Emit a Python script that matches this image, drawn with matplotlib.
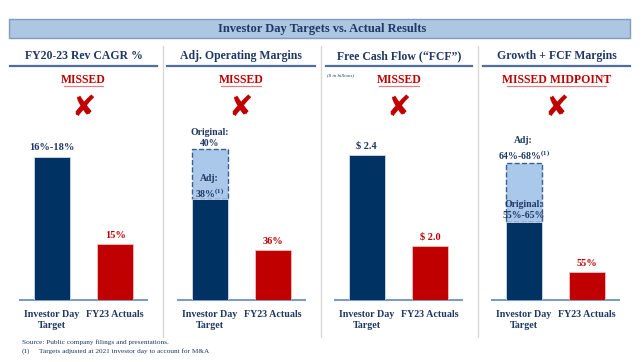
#!/usr/bin/env python3

import matplotlib

matplotlib.use("Agg")
from matplotlib import pyplot as plt

out_filename = "out.png"

# chart content
banner_title = "Investor Day Targets vs. Actual Results"
panel_titles = [
    "FY20-23 Rev CAGR %",
    "Adj. Operating Margins",
    "Free Cash Flow (\u201cFCF\u201d)",
    "Growth + FCF Margins",
]
verdicts = ["MISSED", "MISSED", "MISSED", "MISSED MIDPOINT"]
categories = ["Investor Day\nTarget", "FY23 Actuals"]

# bar heights as drawn on the slide (illustrative, not to a shared scale)
target_heights = [143, 101, 145, 78]
adjusted_tops = [None, 151, None, 137]
actual_heights = [56, 50, 54, 28]

target_labels = ["16%-18%", None, "$ 2.4", None]
actual_labels = ["15%", "36%", "$ 2.0", "55%"]

footnotes = [
    "Source: Public company filings and presentations.",
    "Targets adjusted at 2021 investor day to account for M&A",
]

NAVY = "#003263"
HEAD = "#1f3864"
RED = "#c00000"
LIGHT = "#a9c8ea"
LINE = "#4f6f9f"

FONT = "Liberation Serif"
plt.rcParams["font.family"] = [FONT, "DejaVu Serif"]


def main():
    W, H = 643, 362
    fig = plt.figure(figsize=(W / 100, H / 100), dpi=100)

    # overlay axes in pixel coordinates for the slide furniture
    ov = fig.add_axes([0, 0, 1, 1])
    ov.set_xlim(0, W)
    ov.set_ylim(H, 0)
    ov.axis("off")

    ov.add_patch(
        plt.Rectangle(
            (9, 19), 621, 19, facecolor="#adc6e1", edgecolor="#7f9dbd", linewidth=1
        )
    )
    ov.text(322, 29, banner_title, ha="center", va="center", fontsize=9,
            fontweight="bold", color=HEAD)

    spans = [(10, 157), (167, 315), (326, 472), (483, 630)]
    for x in [163, 321, 478]:
        ov.plot([x, x], [46, 337], color="#d9d9d9", linewidth=1)

    for (x0, x1), title, verdict in zip(spans, panel_titles, verdicts):
        xc = (x0 + x1) / 2
        ov.text(xc, 56, title, ha="center", va="center", fontsize=8.5,
                fontweight="bold", color=HEAD)
        ov.plot([x0, x1], [66, 66], color=LINE, linewidth=1.6)
        ov.text(xc, 80, verdict, ha="center", va="center", fontsize=8.5,
                fontweight="bold", color=RED)
        half = 3.9 * len(verdict) * 0.85
        ov.plot([xc - half, xc + half], [86, 86], color="#e08080", linewidth=0.9)
        ov.text(xc, 108, "\u2718", ha="center", va="center", fontsize=21,
                color=RED, family="DejaVu Sans")

    ov.text(327, 75, "($ in billions)", ha="left", va="center", fontsize=3.5,
            style="italic", color=HEAD)

    ov.text(22, 342, footnotes[0], ha="left", va="center", fontsize=5.2, color=HEAD)
    ov.text(22, 351, "(1)", ha="left", va="center", fontsize=5.2, color=HEAD)
    ov.text(39, 351, footnotes[1], ha="left", va="center", fontsize=5.2, color=HEAD)

    # one small bar axes per panel
    axis_lefts = [20, 178, 335, 492]
    base_y, top_y = 300, 140
    for i, left in enumerate(axis_lefts):
        ax = fig.add_axes([left / W, (H - base_y) / H, 127 / W, (base_y - top_y) / H])
        ax.set_xlim(-0.5, 1.5)
        ax.set_ylim(0, base_y - top_y)
        ax.patch.set_alpha(0)
        for s in ["top", "right", "left"]:
            ax.spines[s].set_visible(False)
        ax.spines["bottom"].set_color("#7f9cc0")
        ax.spines["bottom"].set_linewidth(1.5)
        ax.set_yticks([])
        ax.set_xticks([0, 1])
        ax.set_xticklabels(categories, fontsize=7.2, fontweight="bold", color=HEAD,
                           linespacing=1.3, multialignment="center")
        ax.tick_params(axis="x", length=0, pad=7)

        bw = 0.57
        if adjusted_tops[i] is not None:
            ax.bar(0, adjusted_tops[i] - target_heights[i], bottom=target_heights[i],
                   width=bw, color=LIGHT, edgecolor="#3d5f8f", linestyle="--",
                   linewidth=1, zorder=2)
        ax.bar(0, target_heights[i], width=bw, color=NAVY, edgecolor="#d0dbe8",
               linewidth=0.6, zorder=3)
        ax.bar(1, actual_heights[i], width=bw, color=RED, edgecolor="#f0c0c0",
               linewidth=0.6, zorder=3)

        if target_labels[i]:
            ax.text(0, target_heights[i] + 9, target_labels[i], ha="center",
                    va="center", fontsize=7.5, fontweight="bold", color=HEAD,
                    clip_on=False)
        ax.text(1, actual_heights[i] + 9, actual_labels[i], ha="center",
                va="center", fontsize=7.5, fontweight="bold", color=RED,
                clip_on=False)

        if i == 1:
            ax.text(0, 162, "Original:\n40%", ha="center", va="center",
                    fontsize=7, fontweight="bold", color=HEAD, linespacing=1.3,
                    clip_on=False)
            ax.text(0, 113, "Adj:\n38%$^{\\mathregular{(1)}}$", ha="center",
                    va="center", fontsize=7, fontweight="bold", color=HEAD,
                    linespacing=1.25, clip_on=False, zorder=5)
        if i == 3:
            ax.text(0, 151, "Adj:\n64%-68%$^{\\mathregular{(1)}}$", ha="center",
                    va="center", fontsize=7, fontweight="bold", color=HEAD,
                    linespacing=1.25, clip_on=False)
            ax.text(0, 90, "Original:\n55%-65%", ha="center", va="center",
                    fontsize=7, fontweight="bold", color=HEAD, linespacing=1.3,
                    clip_on=False, zorder=5)

    fig.savefig(out_filename, dpi=100)
    plt.close()


if __name__ == "__main__":
    main()
